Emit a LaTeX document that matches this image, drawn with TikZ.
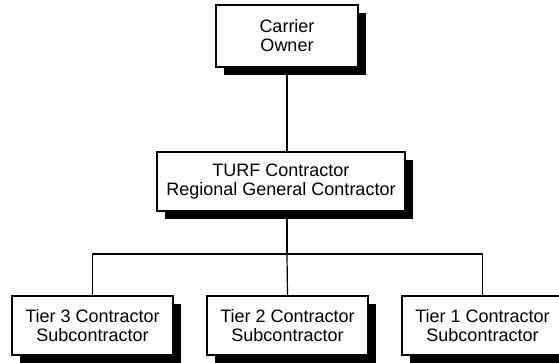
\documentclass[tikz,border=0pt]{standalone}
\usepackage{fontspec}
\setmainfont{Liberation Sans}
\usetikzlibrary{shadows}

\tikzset{
    orgbox/.style={draw,line width=1.2pt,fill=white,rectangle,align=center,
        font=\fontsize{18}{19}\selectfont,inner sep=0pt,
        drop shadow={opacity=1,fill=black,shadow xshift=8pt,shadow yshift=-8pt}},
    link/.style={line width=1.2pt}
}

\begin{document}
\begin{tikzpicture}[x=1pt,y=-1pt]
        \useasboundingbox (0,0) rectangle (559,362);
        %% Top
        \node[orgbox,minimum width=142pt,minimum height=62pt]
            (owner) at (287,36) {Carrier\\Owner};
        %% Middle
        \node[orgbox,minimum width=248pt,minimum height=59pt]
            (turf) at (281,181.5) {TURF Contractor\\Regional General Contractor};
        %% Tiers
        \node[orgbox,minimum width=161pt,minimum height=59pt]
            (tier3) at (92.5,325.5) {Tier 3 Contractor\\Subcontractor};
        \node[orgbox,minimum width=161pt,minimum height=59pt]
            (tier2) at (287.5,325.5) {Tier 2 Contractor\\Subcontractor};
        \node[orgbox,minimum width=161pt,minimum height=59pt]
            (tier1) at (482.5,325.5) {Tier 1 Contractor\\Subcontractor};
        %% Lines
        \coordinate (bus) at (287,254);
        \draw[link] (owner.south) -- (owner.south |- turf.north);
        \draw[link] (bus |- turf.south) -- (bus);
        \draw[link] (tier3.north) |- (bus) -| (tier1.north);
        \draw[link] (bus) -- (tier2.north);
    \end{tikzpicture}
\end{document}
